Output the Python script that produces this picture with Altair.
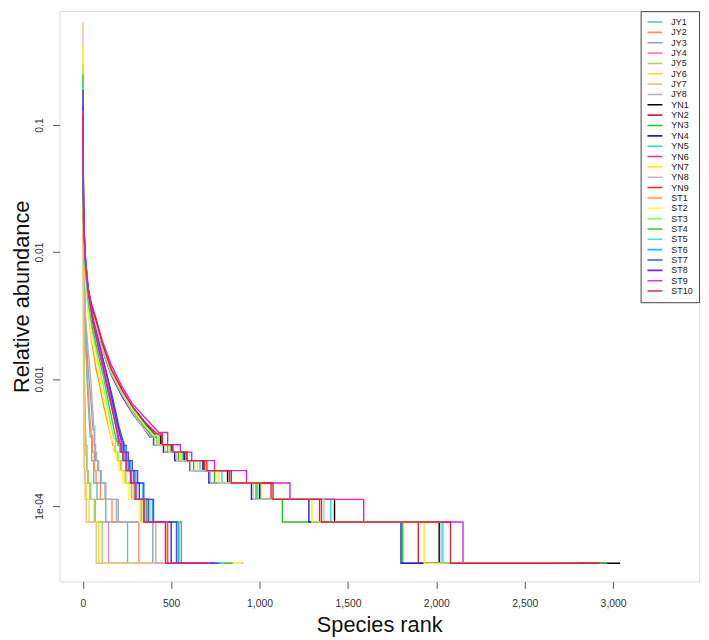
import altair as alt
import pandas as pd

SERIES = ["JY1", "JY2", "JY3", "JY4", "JY5", "JY6", "JY7", "JY8",
          "YN1", "YN2", "YN3", "YN4", "YN5", "YN6", "YN7", "YN8", "YN9",
          "ST1", "ST2", "ST3", "ST4", "ST5", "ST6", "ST7", "ST8", "ST9", "ST10"]

COLORS = ["#66C2A5", "#FC8D62", "#8DA0CB", "#E78AC3", "#A6D854", "#FFD92F", "#E5C494", "#B3B3B3",
          "#000000", "#E8202A", "#22C322", "#1A1AE6", "#22DDE6", "#E020E0", "#F2F21A", "#BEBEBE", "#E8202A",
          "#FF9A2E", "#FFFF33", "#A2F542", "#2ECC40", "#33F0C8", "#33AAFF", "#3A55FF", "#7A1FE0", "#D83DE8", "#E0207A"]

# curve part (rank, relative abundance)
CURVE_RANKS = {
    "JY1": [1, 2, 4, 8, 15, 25, 35, 42],
    "JY2": [1, 2, 4, 8, 15, 25, 40, 48],
    "JY3": [1, 2, 4, 8, 15, 30, 45, 58],
    "JY4": [1, 2, 4, 7, 12, 18],
    "JY5": [1, 2, 4, 7, 12, 18],
    "JY6": [1, 2, 3, 5, 8],
    "JY7": [1, 2, 3, 5, 7],
    "JY8": [1, 2, 4, 8, 15, 30, 45, 55, 62],
    "YN1": [1, 2, 4, 8, 15, 30, 50, 75, 110, 160, 220, 280, 350, 410],
    "YN2": [1, 2, 4, 8, 15, 30, 50, 75, 110, 160, 220, 280, 350, 415],
    "YN3": [1, 2, 4, 8, 15, 30, 50, 75, 110, 160, 220, 280, 350, 395],
    "YN4": [1, 2, 4, 8, 15, 30, 50, 75, 110, 160, 220, 280, 340, 380],
    "YN5": [1, 2, 4, 8, 15, 30, 50, 75, 110, 160, 220, 280, 350, 405],
    "YN6": [1, 2, 4, 8, 15, 30, 50, 75, 110, 160, 220, 280, 350, 430],
    "YN7": [1, 2, 4, 8, 15, 30, 50, 75, 110, 160, 220, 280, 350, 400],
    "YN8": [1, 2, 4, 8, 15, 30, 50, 75, 110, 160, 220, 280, 340, 385],
    "YN9": [1, 2, 4, 8, 15, 30, 50, 75, 110, 160, 220, 280, 350, 420],
    "ST1": [1, 2, 4, 8, 15, 30, 50, 75, 95, 120, 150, 170],
    "ST2": [1, 2, 4, 8, 15, 30, 50, 80, 110, 140, 165],
    "ST3": [1, 2, 4, 8, 15, 30, 55, 85, 115, 145, 175],
    "ST4": [1, 2, 4, 8, 15, 30, 55, 90, 120, 150, 180, 200],
    "ST5": [1, 2, 4, 8, 15, 30, 60, 95, 125, 160, 190, 215],
    "ST6": [1, 2, 4, 8, 15, 30, 60, 100, 130, 165, 200, 225],
    "ST7": [1, 2, 4, 8, 15, 30, 60, 100, 135, 170, 205, 235],
    "ST8": [1, 2, 4, 8, 15, 30, 60, 100, 135, 165, 195, 220],
    "ST9": [1, 2, 4, 8, 15, 30, 60, 95, 125, 155, 185, 210],
    "ST10": [1, 2, 4, 8, 15, 30, 60, 95, 125, 155, 185, 205],
}
CURVE_VALUES = {
    "JY1": [0.09, 0.03, 0.012, 0.005, 0.002, 0.0009, 0.0005, 0.00035],
    "JY2": [0.15, 0.04, 0.014, 0.005, 0.0022, 0.0011, 0.0005, 0.00036],
    "JY3": [0.07, 0.03, 0.013, 0.006, 0.0028, 0.0012, 0.0007, 0.0004],
    "JY4": [0.22, 0.03, 0.006, 0.0015, 0.0005, 0.00025],
    "JY5": [0.28, 0.03, 0.006, 0.0016, 0.0006, 0.0003],
    "JY6": [0.42, 0.02, 0.004, 0.001, 0.0003],
    "JY7": [0.64, 0.015, 0.003, 0.0007, 0.0002],
    "JY8": [0.10, 0.035, 0.015, 0.007, 0.0032, 0.0017, 0.001, 0.0006, 0.00042],
    "YN1": [0.10, 0.04, 0.019, 0.011, 0.0075, 0.005, 0.0037, 0.0028, 0.0019, 0.0012, 0.00082, 0.0006, 0.00045, 0.00036],
    "YN2": [0.08, 0.035, 0.018, 0.0105, 0.0072, 0.0049, 0.0036, 0.0028, 0.0019, 0.0012, 0.00083, 0.00061, 0.00046, 0.00036],
    "YN3": [0.12, 0.045, 0.02, 0.011, 0.0074, 0.0049, 0.0035, 0.0027, 0.0018, 0.00115, 0.00078, 0.00057, 0.00042, 0.00035],
    "YN4": [0.09, 0.04, 0.019, 0.0107, 0.0073, 0.0048, 0.0034, 0.0026, 0.0017, 0.00108, 0.00074, 0.00054, 0.00042, 0.00035],
    "YN5": [0.07, 0.035, 0.018, 0.0103, 0.0071, 0.0048, 0.0036, 0.0028, 0.0019, 0.0012, 0.00081, 0.00059, 0.00044, 0.00036],
    "YN6": [0.10, 0.042, 0.02, 0.0115, 0.0077, 0.0052, 0.0039, 0.003, 0.002, 0.0013, 0.00088, 0.00064, 0.0005, 0.00038],
    "YN7": [0.08, 0.038, 0.018, 0.0105, 0.0072, 0.0048, 0.0035, 0.0027, 0.0018, 0.00115, 0.00079, 0.00058, 0.00043, 0.00036],
    "YN8": [0.06, 0.032, 0.017, 0.0102, 0.007, 0.0047, 0.0034, 0.0026, 0.0017, 0.0011, 0.00076, 0.00055, 0.00042, 0.00035],
    "YN9": [0.09, 0.04, 0.019, 0.0109, 0.0075, 0.005, 0.0037, 0.0029, 0.0019, 0.0012, 0.00083, 0.00061, 0.00046, 0.00037],
    "ST1": [0.12, 0.05, 0.02, 0.010, 0.006, 0.0035, 0.002, 0.0012, 0.0009, 0.0006, 0.0004, 0.0003],
    "ST2": [0.42, 0.06, 0.02, 0.010, 0.006, 0.0036, 0.0021, 0.0013, 0.0008, 0.0005, 0.00032],
    "ST3": [0.30, 0.06, 0.022, 0.011, 0.0068, 0.004, 0.0023, 0.0014, 0.0009, 0.00055, 0.00034],
    "ST4": [0.25, 0.06, 0.024, 0.012, 0.0072, 0.0043, 0.0025, 0.0015, 0.001, 0.0006, 0.00038, 0.0003],
    "ST5": [0.20, 0.06, 0.025, 0.013, 0.0078, 0.0046, 0.0026, 0.0016, 0.001, 0.00062, 0.0004, 0.0003],
    "ST6": [0.15, 0.055, 0.025, 0.013, 0.008, 0.0048, 0.0027, 0.0016, 0.00105, 0.00065, 0.0004, 0.0003],
    "ST7": [0.14, 0.055, 0.026, 0.014, 0.0085, 0.005, 0.0028, 0.0017, 0.0011, 0.0007, 0.00042, 0.0003],
    "ST8": [0.19, 0.06, 0.027, 0.0145, 0.009, 0.0053, 0.0029, 0.0017, 0.0011, 0.0007, 0.00045, 0.00032],
    "ST9": [0.13, 0.055, 0.026, 0.014, 0.0088, 0.0052, 0.0028, 0.0017, 0.0011, 0.0007, 0.00045, 0.00032],
    "ST10": [0.12, 0.05, 0.025, 0.0135, 0.0085, 0.005, 0.0027, 0.0016, 0.00105, 0.00068, 0.00044, 0.00031],
}
# step part: rank where the curve drops to the next abundance level
STEP_RANKS = {
    "JY1": [50, 62, 80, 130, 253],
    "JY2": [55, 65, 75, 100, 165, 317],
    "JY3": [65, 72, 85, 100, 130, 200, 396],
    "JY4": [22, 28, 40, 70, 146],
    "JY5": [24, 32, 45, 65, 110],
    "JY6": [10, 14, 20, 35, 90],
    "JY7": [9, 13, 20, 76],
    "JY8": [68, 78, 90, 105, 125, 190, 413],
    "YN1": [440, 500, 573, 680, 819, 1001, 1424, 2016],
    "YN2": [445, 505, 584, 690, 830, 1065, 1339, 1898],
    "YN3": [420, 480, 541, 627, 745, 980, 1129, 1810],
    "YN4": [400, 456, 520, 606, 713, 954, 1279, 1800],
    "YN5": [430, 495, 563, 663, 787, 990, 1403, 2037],
    "YN6": [480, 552, 616, 745, 926, 1172, 1589, 2151],
    "YN7": [425, 485, 552, 648, 766, 1012, 1296, 1931],
    "YN8": [405, 465, 531, 610, 723, 963, 1364, 2027],
    "YN9": [450, 510, 590, 702, 840, 1076, 1350, 2080],
    "ST1": [180, 195, 215, 240, 275, 330, 470],
    "ST2": [175, 190, 205, 225, 260, 320, 480],
    "ST3": [185, 200, 220, 245, 285, 340, 500],
    "ST4": [210, 225, 245, 270, 305, 360, 557],
    "ST5": [225, 240, 260, 285, 320, 380, 545],
    "ST6": [235, 250, 270, 300, 340, 395, 540],
    "ST7": [245, 258, 280, 310, 345, 400, 530],
    "ST8": [230, 245, 262, 290, 320, 370, 500],
    "ST9": [220, 232, 250, 275, 300, 350, 480],
    "ST10": [215, 228, 245, 270, 295, 345, 467],
}
STEP_LEVELS = {
    "JY1": [2.28e-4, 1.52e-4, 1.13e-4, 7.5e-5, 3.55e-5],
    "JY2": [2.66e-4, 1.9e-4, 1.52e-4, 1.13e-4, 7.5e-5, 3.55e-5],
    "JY3": [3.04e-4, 2.28e-4, 1.9e-4, 1.52e-4, 1.13e-4, 7.5e-5, 3.55e-5],
    "JY4": [1.9e-4, 1.52e-4, 1.13e-4, 7.5e-5, 3.55e-5],
    "JY5": [1.9e-4, 1.52e-4, 1.13e-4, 7.5e-5, 3.55e-5],
    "JY6": [1.9e-4, 1.52e-4, 1.13e-4, 7.5e-5, 3.55e-5],
    "JY7": [1.52e-4, 1.13e-4, 7.5e-5, 3.55e-5],
    "JY8": [2.66e-4, 2.28e-4, 1.9e-4, 1.52e-4, 1.13e-4, 7.5e-5, 3.55e-5],
}
YN_LEVELS = [3.04e-4, 2.66e-4, 2.28e-4, 1.9e-4, 1.52e-4, 1.13e-4, 7.5e-5, 3.55e-5]
ST_LEVELS = [2.66e-4, 2.28e-4, 1.9e-4, 1.52e-4, 1.13e-4, 7.5e-5, 3.55e-5]
for _s in SERIES:
    if _s.startswith("YN"):
        STEP_LEVELS[_s] = YN_LEVELS
    elif _s.startswith("ST"):
        STEP_LEVELS[_s] = ST_LEVELS

END_RANKS = {
    "JY1": 420, "JY2": 450, "JY3": 462, "JY4": 380, "JY5": 330, "JY6": 462, "JY7": 440, "JY8": 455,
    "YN1": 3040, "YN2": 2700, "YN3": 2967, "YN4": 2600, "YN5": 2750, "YN6": 2850, "YN7": 2650,
    "YN8": 2800, "YN9": 2924,
    "ST1": 906, "ST2": 900, "ST3": 840, "ST4": 848, "ST5": 800, "ST6": 780, "ST7": 770,
    "ST8": 740, "ST9": 720, "ST10": 710,
}

X_TICKS = [0, 500, 1000, 1500, 2000, 2500, 3000]
Y_TICKS = [0.1, 0.01, 0.001, 0.0001]

rows = []
for s in SERIES:
    pts = list(zip(CURVE_RANKS[s], CURVE_VALUES[s]))
    last = pts[-1][1]
    for r, lv in zip(STEP_RANKS[s], STEP_LEVELS[s]):
        pts.append((r, last))
        pts.append((r, lv))
        last = lv
    pts.append((END_RANKS[s], last))
    for i, (r, v) in enumerate(pts):
        rows.append({"series": s, "rank": r, "abundance": v, "i": i})
df = pd.DataFrame(rows)

FONT = "Liberation Sans"

chart = alt.Chart(df).mark_line(strokeWidth=1.4, clip=True).encode(
    x=alt.X("rank:Q",
            scale=alt.Scale(domain=[-132, 3486], nice=False, zero=False),
            axis=alt.Axis(values=X_TICKS, format=",d", title="Species rank",
                          grid=False, domain=False, tickSize=7, tickColor="#555",
                          labelFontSize=10.5, labelColor="#333", labelPadding=10,
                          titleFontSize=22, titleFontWeight="normal", titleColor="#111",
                          titlePadding=6, labelFont=FONT, titleFont=FONT)),
    y=alt.Y("abundance:Q",
            scale=alt.Scale(type="log", domain=[2.553e-5, 0.7875], nice=False),
            axis=alt.Axis(values=Y_TICKS,
                          labelExpr="datum.value > 0.05 ? '0.1' : datum.value > 0.005 ? '0.01' : datum.value > 0.0005 ? '0.001' : '1e-04'",
                          title="Relative abundance", grid=False, domain=False,
                          tickSize=7, tickColor="#555", labelAngle=-90,
                          labelAlign="center", labelBaseline="bottom",
                          labelFontSize=10.5, labelColor="#333", labelPadding=8,
                          titleFontSize=22, titleFontWeight="normal", titleColor="#111",
                          titlePadding=1, labelFont=FONT, titleFont=FONT)),
    color=alt.Color("series:N",
                    scale=alt.Scale(domain=SERIES, range=COLORS),
                    legend=alt.Legend(orient="top-right", offset=0, title=None,
                                      symbolType="stroke", symbolStrokeWidth=1.6,
                                      symbolSize=225, labelFontSize=9, labelFont=FONT,
                                      labelColor="#222", padding=6, strokeColor="#444",
                                      fillColor="white", clipHeight=10.0, rowPadding=0.45,
                                      labelOffset=8, symbolLimit=60)),
    detail="series:N",
    order="i:Q",
).properties(
    width=646, height=576,
    padding={"left": 52, "top": 0, "right": 2, "bottom": 56},
    autosize=alt.AutoSizeParams(type="none"),
).configure_view(
    stroke="#555", strokeWidth=1
).configure(font=FONT)

chart.save("out.html", embed_options={"renderer": "svg", "actions": False})
